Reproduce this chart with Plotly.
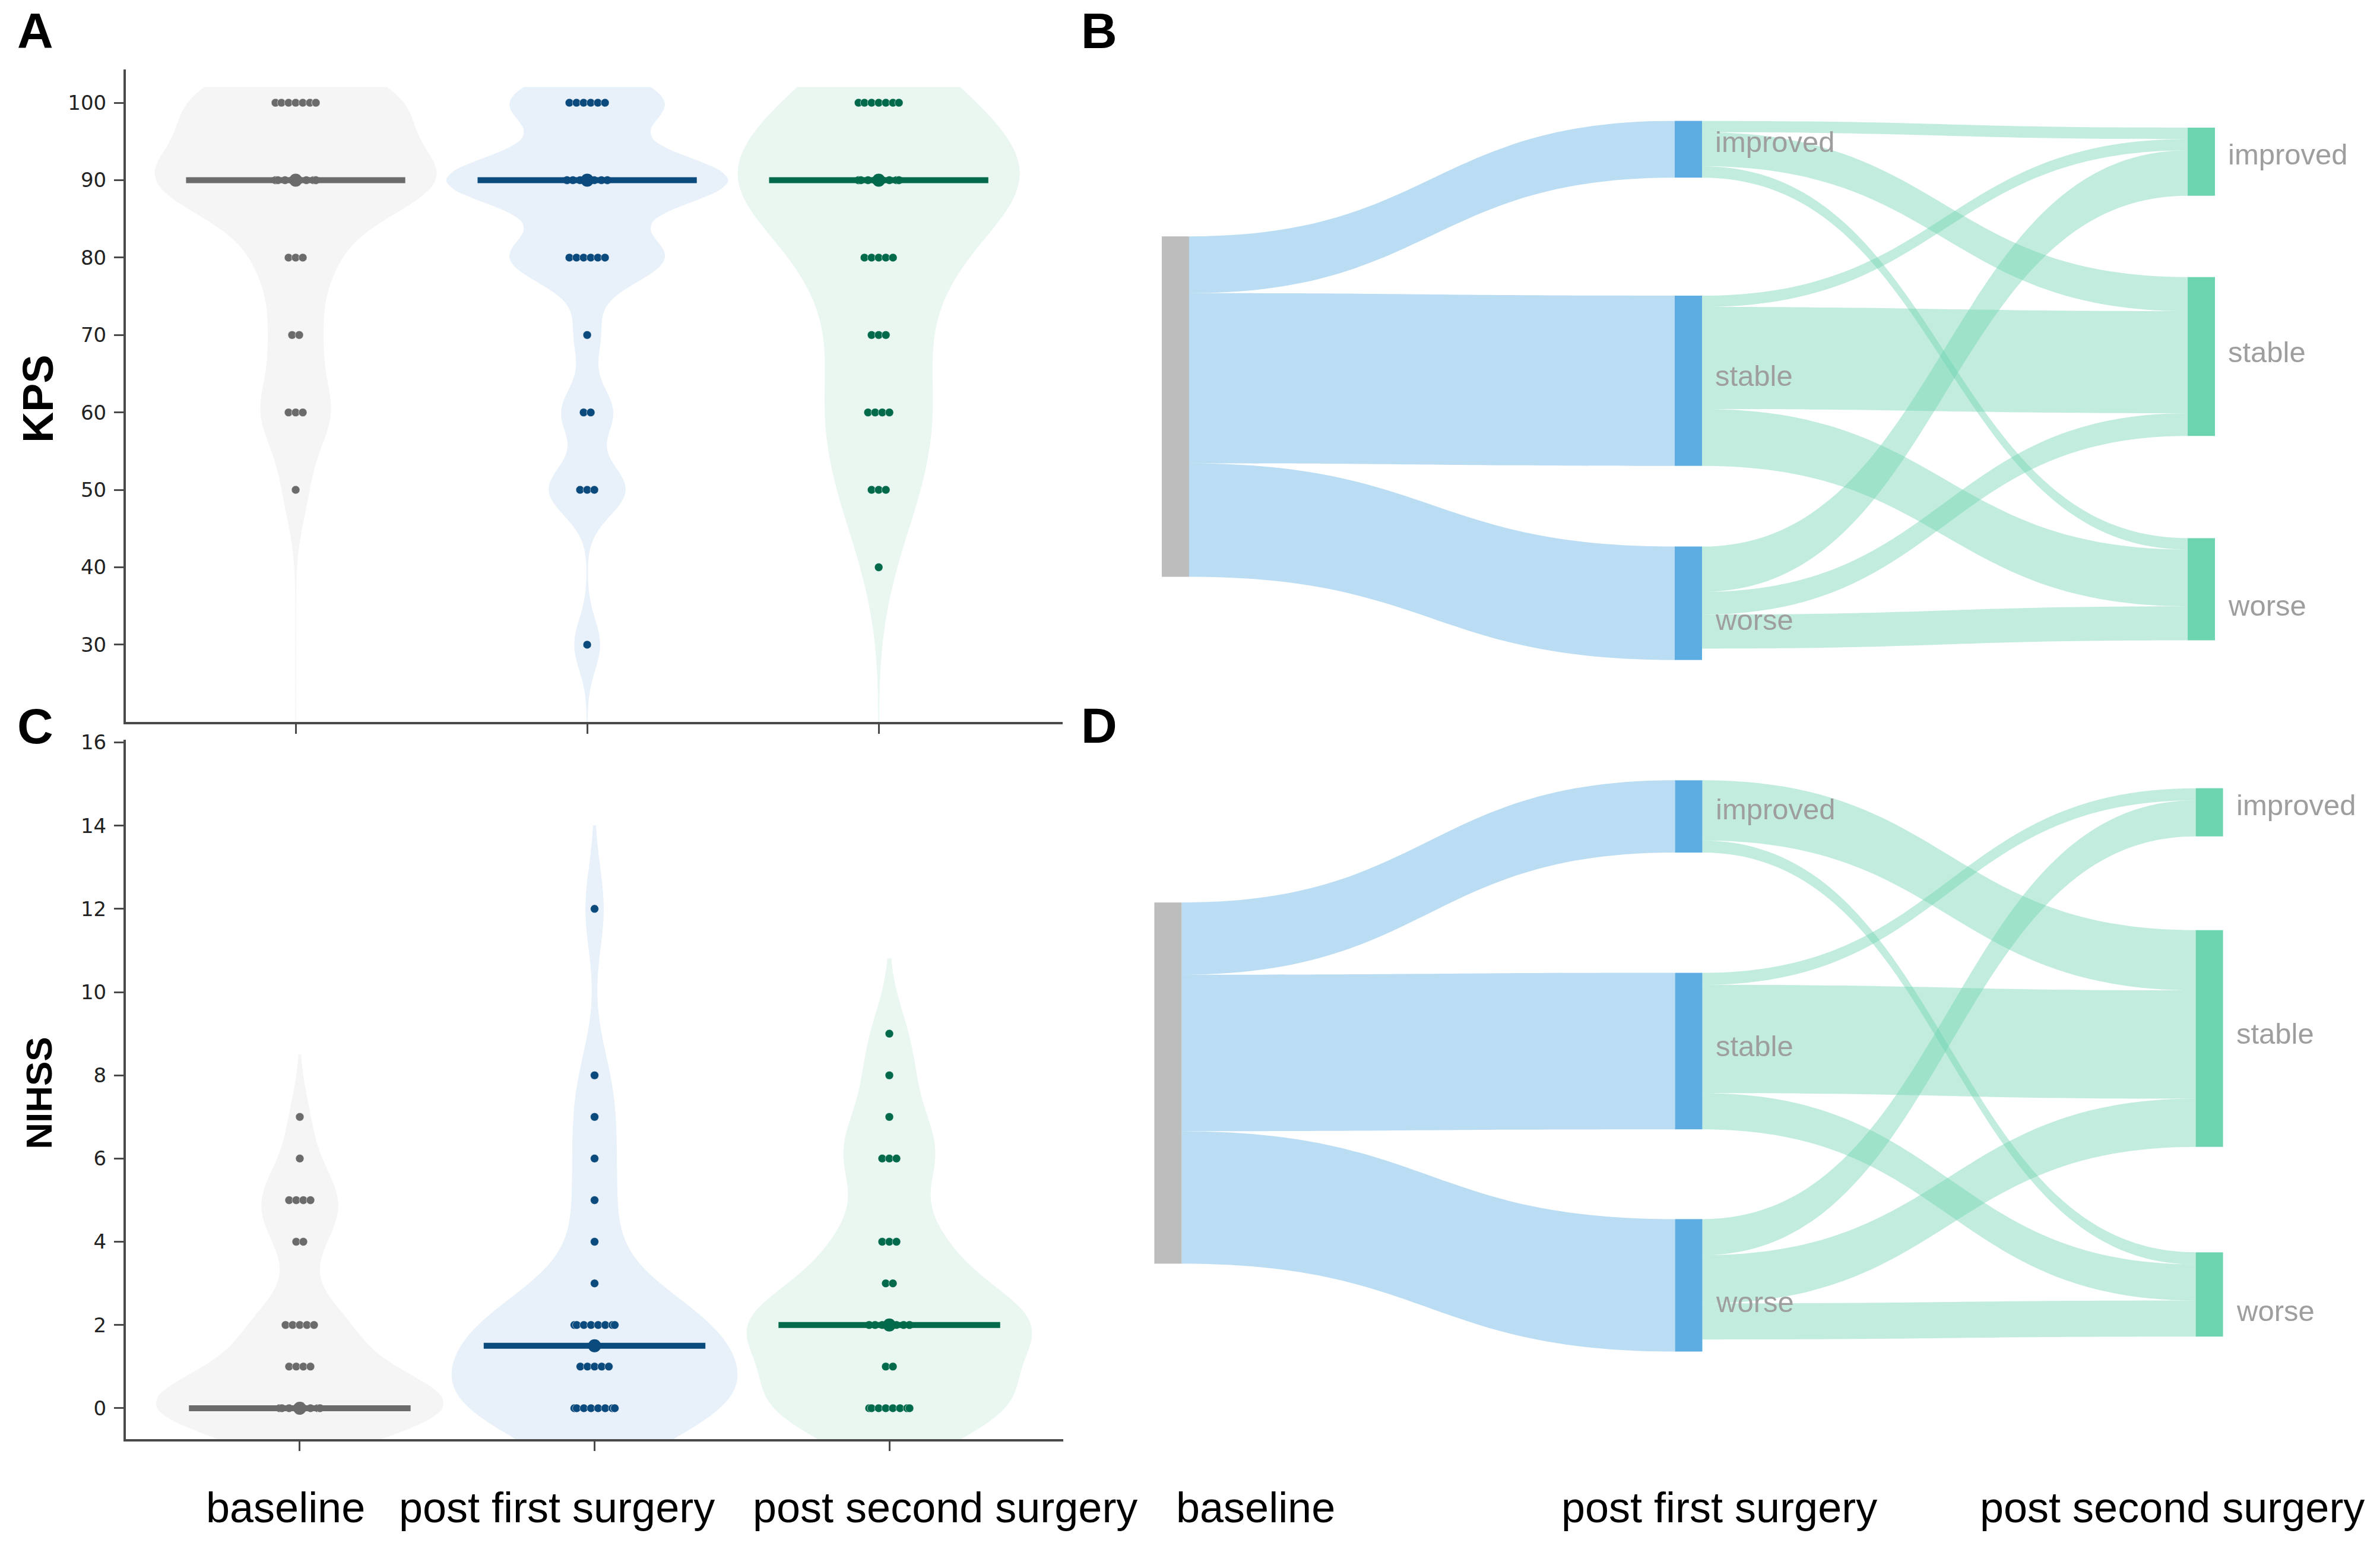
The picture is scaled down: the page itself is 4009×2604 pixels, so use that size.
import numpy as np
import plotly.graph_objects as go

W, H = 4009, 2604

# ---------------- data ----------------
groups = ["baseline", "post first surgery", "post second surgery"]

kps_levels = [100, 90, 80, 70, 60, 50, 40, 30]
kps_counts_baseline = [9, 12, 3, 2, 3, 1, 0, 0]
kps_counts_first = [6, 11, 6, 1, 2, 3, 0, 1]
kps_counts_second = [7, 12, 5, 3, 4, 3, 1, 0]

nihss_levels = [12, 9, 8, 7, 6, 5, 4, 3, 2, 1, 0]
nihss_counts_baseline = [0, 0, 0, 1, 1, 4, 2, 0, 5, 4, 18]
nihss_counts_first = [1, 0, 1, 1, 1, 1, 1, 1, 8, 5, 10]
nihss_counts_second = [0, 1, 1, 1, 3, 0, 3, 2, 9, 2, 8]

status = ["improved", "stable", "worse"]
# Sankey B (KPS): baseline -> first, first -> second (rows: from, cols: to)
kps_base_to_first = [5, 15, 10]
kps_first_to_second = [[1, 3, 1],
                       [1, 9, 5],
                       [4, 2, 3]]
# Sankey D (NIHSS)
nihss_base_to_first = [6, 13, 11]
nihss_first_to_second = [[0, 5, 1],
                         [1, 9, 3],
                         [3, 4, 3]]

# ---------------- styles ----------------
fill_colors = ["#f5f5f5", "#e8f1fa", "#eaf7f1"]
dark_colors = ["#6b6b6b", "#0b4a7c", "#006a4b"]
kps_bw = [4.7, 3.3, 7.0]
nihss_bw = [0.75, 1.0, 0.9]
violin_width = 0.965
median_half = 0.376
dot_size = 14
dot_spacing_px = 12
swarm_half_px = 34
label_dy_px = {"improved": -12, "stable": -8, "worse": 28}


def px_x(px):
    return px / W


def px_y(py):
    # small vertical calibration so the rendered page lines up with the target
    py = py - 14 * (1 - py / 2539)
    return 1 - py / H


fig = go.Figure()

# axes geometry (pixels)
A_x = (212, 1790); A_y = (115, 1215)
C_x = (212, 1791); C_y = (1245, 2424)
A_xrange = [-0.5825, 2.631]
C_xrange = [-0.59, 2.59]
A_yrange = [20.0, 104.3]
C_yrange = [-0.75, 16.06]


def panel(levels, counts_list, bws, xref, yref, xpix, xrange, spanmode, span):
    ppu = (xpix[1] - xpix[0]) / (xrange[1] - xrange[0])
    spacing = dot_spacing_px / ppu
    halfw = swarm_half_px / ppu
    for i, counts in enumerate(counts_list):
        data = np.repeat(levels, counts).astype(float)
        vkw = dict(spanmode=spanmode)
        if spanmode == "manual":
            vkw["span"] = span
        fig.add_trace(go.Violin(
            y=data, x0=i, xaxis=xref, yaxis=yref,
            width=violin_width, scalemode="width", bandwidth=bws[i],
            fillcolor=fill_colors[i], line=dict(color=fill_colors[i], width=1),
            points=False, box_visible=False, meanline_visible=False,
            hoverinfo="skip", showlegend=False, opacity=1, **vkw))
        # swarm dots
        xs, ys = [], []
        for lv, k in zip(levels, counts):
            if k == 0:
                continue
            j = np.arange(k) - (k - 1) / 2
            offs = np.clip(j * spacing, -halfw, halfw)
            xs.extend(i + offs)
            ys.extend([lv] * k)
        fig.add_trace(go.Scatter(
            x=xs, y=ys, xaxis=xref, yaxis=yref, mode="markers",
            marker=dict(size=dot_size, color=dark_colors[i],
                        line=dict(color="rgba(255,255,255,0.55)", width=1)),
            hoverinfo="skip", showlegend=False))
        med = float(np.median(data))
        fig.add_trace(go.Scatter(
            x=[i - median_half, i + median_half], y=[med, med],
            xaxis=xref, yaxis=yref, mode="lines",
            line=dict(color=dark_colors[i], width=10),
            hoverinfo="skip", showlegend=False))
        fig.add_trace(go.Scatter(
            x=[i], y=[med], xaxis=xref, yaxis=yref, mode="markers",
            marker=dict(size=22, color=dark_colors[i]),
            hoverinfo="skip", showlegend=False))


panel(kps_levels, [kps_counts_baseline, kps_counts_first, kps_counts_second],
      kps_bw, "x", "y", A_x, A_xrange, "manual", [19.0, 102.0])
panel(nihss_levels, [nihss_counts_baseline, nihss_counts_first, nihss_counts_second],
      nihss_bw, "x2", "y2", C_x, C_xrange, "soft", None)

axis_col = "#4a4a4a"
common_x = dict(type="linear", showgrid=False, zeroline=False, showline=True,
                linecolor=axis_col, linewidth=4, ticks="outside", ticklen=16,
                tickwidth=3, tickcolor=axis_col, tickvals=[0, 1, 2],
                showticklabels=False)
common_y = dict(showgrid=False, zeroline=False, showline=True, linecolor=axis_col,
                linewidth=4, ticks="outside", ticklen=16, tickwidth=3,
                tickcolor=axis_col, ticklabelstandoff=6,
                tickfont=dict(family="DejaVu Sans", size=34, color="#222222"))

fig.update_layout(
    width=W, height=H, margin=dict(l=0, r=0, t=0, b=0), autosize=False,
    paper_bgcolor="white", plot_bgcolor="white", showlegend=False,
    xaxis=dict(domain=[px_x(A_x[0]), px_x(A_x[1])], range=A_xrange, anchor="y", **common_x),
    yaxis=dict(domain=[px_y(A_y[1]), px_y(A_y[0])], range=A_yrange, anchor="x",
               tickvals=list(range(30, 101, 10)), **common_y),
    xaxis2=dict(domain=[px_x(C_x[0]), px_x(C_x[1])], range=C_xrange, anchor="y2", **common_x),
    yaxis2=dict(domain=[px_y(C_y[1]), px_y(C_y[0])], range=C_yrange, anchor="x2",
                tickvals=list(range(0, 17, 2)), **common_y),
)

# ---------------- Sankeys ----------------
node_colors = ["#bdbdbd"] + ["#5dade2"] * 3 + ["#6cd4ae"] * 3
blue_link = "rgba(93,173,226,0.42)"
green_link = "rgba(108,212,174,0.41)"
node_thickness = 46

annotations = []


def add_sankey(base_to_first, first_to_second, dom_px_x, dom_px_y, node_x, node_y, pad):
    source, target, value, colors = [], [], [], []
    for j, v in enumerate(base_to_first):
        if v > 0:
            source.append(0); target.append(1 + j); value.append(v); colors.append(blue_link)
    for a in range(3):
        for b in range(3):
            v = first_to_second[a][b]
            if v > 0:
                source.append(1 + a); target.append(4 + b); value.append(v); colors.append(green_link)
    y_top, y_bot = px_y(dom_px_y[0]), px_y(dom_px_y[1])
    fig.add_trace(go.Sankey(
        domain=dict(x=[px_x(dom_px_x[0]), px_x(dom_px_x[1])], y=[y_bot, y_top]),
        arrangement="fixed",
        node=dict(label=[""] * 7, color=node_colors, pad=pad, thickness=node_thickness,
                  line=dict(width=0), x=node_x, y=node_y),
        link=dict(source=source, target=target, value=value, color=colors),
        textfont=dict(size=1, color="rgba(0,0,0,0)"),
        hoverinfo="skip"))
    wd = dom_px_x[1] - dom_px_x[0]
    for k in range(1, 7):
        name = status[(k - 1) % 3]
        cx = dom_px_x[0] + node_x[k] * wd
        ypaper = y_top - node_y[k] * (y_top - y_bot) - label_dy_px[name] / H
        annotations.append(dict(
            x=px_x(cx + node_thickness / 2 + 20), y=ypaper, xref="paper", yref="paper",
            text=name, showarrow=False, xanchor="left", yanchor="middle",
            font=dict(family="Liberation Sans", size=49, color="#9e9e9e")))


add_sankey(kps_base_to_first, kps_first_to_second, (1956, 3732), (202, 1110),
           [0.0135, 0.5, 0.5, 0.5, 0.9865, 0.9865, 0.9865],
           [0.530, 0.0523, 0.482, 0.895, 0.0754, 0.437, 0.869], 167)
add_sankey(nihss_base_to_first, nihss_first_to_second, (1944, 3745), (1313, 2276),
           [0.013, 0.5, 0.5, 0.5, 0.987, 0.987, 0.987],
           [0.530, 0.0633, 0.474, 0.884, 0.0561, 0.452, 0.900], 177)

# ---------------- text ----------------
for letter, (lx, ly) in zip("ABCD", [(59, 50), (1851, 50), (59, 1222), (1851, 1221)]):
    annotations.append(dict(x=px_x(lx), y=px_y(ly), xref="paper", yref="paper",
                            text="<b>%s</b>" % letter, showarrow=False,
                            xanchor="center", yanchor="middle",
                            font=dict(family="Liberation Sans", size=84, color="black")))

annotations.append(dict(x=px_x(64), y=px_y(670), xref="paper", yref="paper",
                        text="<b>KPS</b>", showarrow=False, textangle=-90,
                        xanchor="center", yanchor="middle",
                        font=dict(family="Liberation Sans", size=72, color="black")))
annotations.append(dict(x=px_x(66), y=px_y(1841), xref="paper", yref="paper",
                        text="<b>NIHSS</b>", showarrow=False, textangle=-90,
                        xanchor="center", yanchor="middle",
                        font=dict(family="Liberation Sans Narrow, Liberation Sans",
                                  size=62, color="black")))

label_x_px = [481, 938, 1592, 2115, 2896, 3659]
for name, lx in zip(groups + groups, label_x_px):
    annotations.append(dict(x=px_x(lx), y=px_y(2539), xref="paper", yref="paper",
                            text=name, showarrow=False, xanchor="center", yanchor="middle",
                            font=dict(family="Liberation Sans", size=72, color="black")))

fig.update_layout(annotations=annotations)
fig.write_html("out.html",
               config={"displayModeBar": False},
               post_script="document.body.style.margin='0';"
                           "document.body.style.overflow='hidden';")
